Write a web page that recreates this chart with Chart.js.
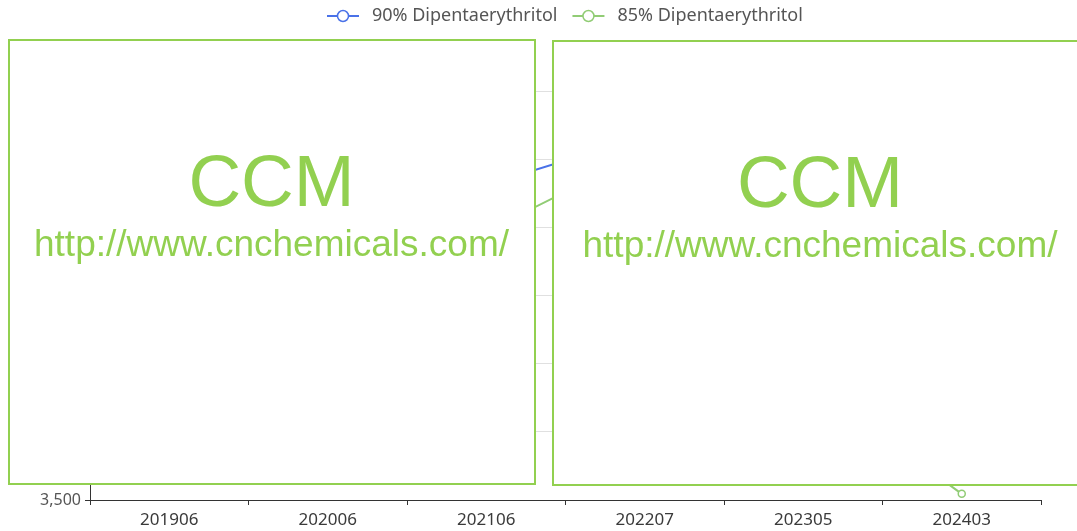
<!DOCTYPE html>
<html>
<head>
<meta charset="utf-8">
<script src="https://cdn.jsdelivr.net/npm/chart.js@4/dist/chart.umd.min.js"></script>
<style>
  html, body { margin: 0; padding: 0; background: #fff; }
  #wrap { position: relative; width: 1077px; height: 531px; overflow: hidden; }
  canvas { position: absolute; left: 0; top: 0; }
  .box { position: absolute; background: #fff; border: 2px solid #92d050; box-sizing: border-box; }
  .wm { position: absolute; color: #92d050; font-family: "Liberation Sans", Arial, sans-serif; text-align: center; white-space: nowrap; }
</style>
</head>
<body>
<div id="wrap">
  <canvas id="c" width="1077" height="531"></canvas>
  <div class="box" style="left:8px;top:39px;width:528px;height:446px;"></div>
  <div class="wm" style="left:0;width:543px;top:144px;font-size:73px;line-height:73px;">CCM</div>
  <div class="wm" style="left:0;width:543px;top:225px;font-size:37px;line-height:37px;">http://www.cnchemicals.com/</div>
  <div class="box" style="left:552px;top:40px;width:536px;height:446px;"></div>
  <div class="wm" style="left:553px;width:534px;top:145px;font-size:73px;line-height:73px;">CCM</div>
  <div class="wm" style="left:553px;width:534px;top:226px;font-size:37px;line-height:37px;">http://www.cnchemicals.com/</div>
</div>
<script>
const categories = ['201906', '202006', '202106', '202207', '202305', '202403'];
const dipenta90 = [4300, 4100, 5810, 6170, 4700, 3950];
const dipenta85 = [4000, 3850, 5470, 6050, 4390, 3545];
const yTicks = [3500, 4000, 4500, 5000, 5500, 6000, 6500];
const seriesNames = ['90% Dipentaerythritol', '85% Dipentaerythritol'];
const seriesColors = ['#4a72e8', '#91cc75'];

const legendPlugin = {
  id: 'customLegend',
  afterDraw(chart) {
    const ctx = chart.ctx;
    ctx.save();
    ctx.font = '18px "Noto Sans", sans-serif';
    ctx.textBaseline = 'middle';
    const y = 16;
    let x = 327;
    chart.data.datasets.forEach((ds, i) => {
      const col = ds.borderColor;
      ctx.strokeStyle = col;
      ctx.lineWidth = 2;
      ctx.beginPath();
      ctx.moveTo(x, y); ctx.lineTo(x + 32, y);
      ctx.stroke();
      ctx.beginPath();
      ctx.arc(x + 16, y, 5.5, 0, Math.PI * 2);
      ctx.fillStyle = '#fff';
      ctx.fill();
      ctx.lineWidth = 1.5;
      ctx.stroke();
      ctx.fillStyle = '#555';
      ctx.fillText(ds.label, x + 45, y);
      x += 45 + ctx.measureText(ds.label).width + 15;
    });
    ctx.restore();
  }
};

new Chart(document.getElementById('c'), {
  type: 'line',
  data: {
    labels: categories,
    datasets: [
      { label: seriesNames[0], data: dipenta90, borderColor: seriesColors[0], borderWidth: 2,
        pointRadius: 3.5, pointBackgroundColor: '#fff', pointBorderColor: seriesColors[0], pointBorderWidth: 1.5, tension: 0 },
      { label: seriesNames[1], data: dipenta85, borderColor: seriesColors[1], borderWidth: 2,
        pointRadius: 3.5, pointBackgroundColor: '#fff', pointBorderColor: seriesColors[1], pointBorderWidth: 1.5, tension: 0 }
    ]
  },
  options: {
    responsive: false,
    animation: false,
    layout: { padding: { top: 91, right: 36, left: 0, bottom: 0 } },
    plugins: { legend: { display: false }, tooltip: { enabled: false } },
    scales: {
      x: {
        type: 'category',
        offset: true,
        grid: { offset: true, drawOnChartArea: false, drawTicks: true, tickLength: 5, tickColor: '#333', color: '#333' },
        border: { display: true, color: '#333', width: 1 },
        ticks: { color: '#3a3a3a', font: { family: '"Noto Sans", sans-serif', size: 17 }, padding: 5, maxRotation: 0, autoSkip: false },
        afterFit: s => { s.height = 31; }
      },
      y: {
        min: yTicks[0],
        max: yTicks[yTicks.length - 1],
        afterBuildTicks: s => { s.ticks = yTicks.map(v => ({ value: v })); },
        ticks: { callback: v => v.toLocaleString('en-US'), color: '#555', font: { family: '"Noto Sans", sans-serif', size: 16 }, padding: 4 },
        grid: { color: '#e0e0e0', tickColor: '#333', tickLength: 5, drawTicks: true },
        border: { display: true, color: '#333', width: 1 },
        afterFit: s => { s.width = 90; }
      }
    }
  },
  plugins: [legendPlugin]
});
</script>
</body>
</html>
